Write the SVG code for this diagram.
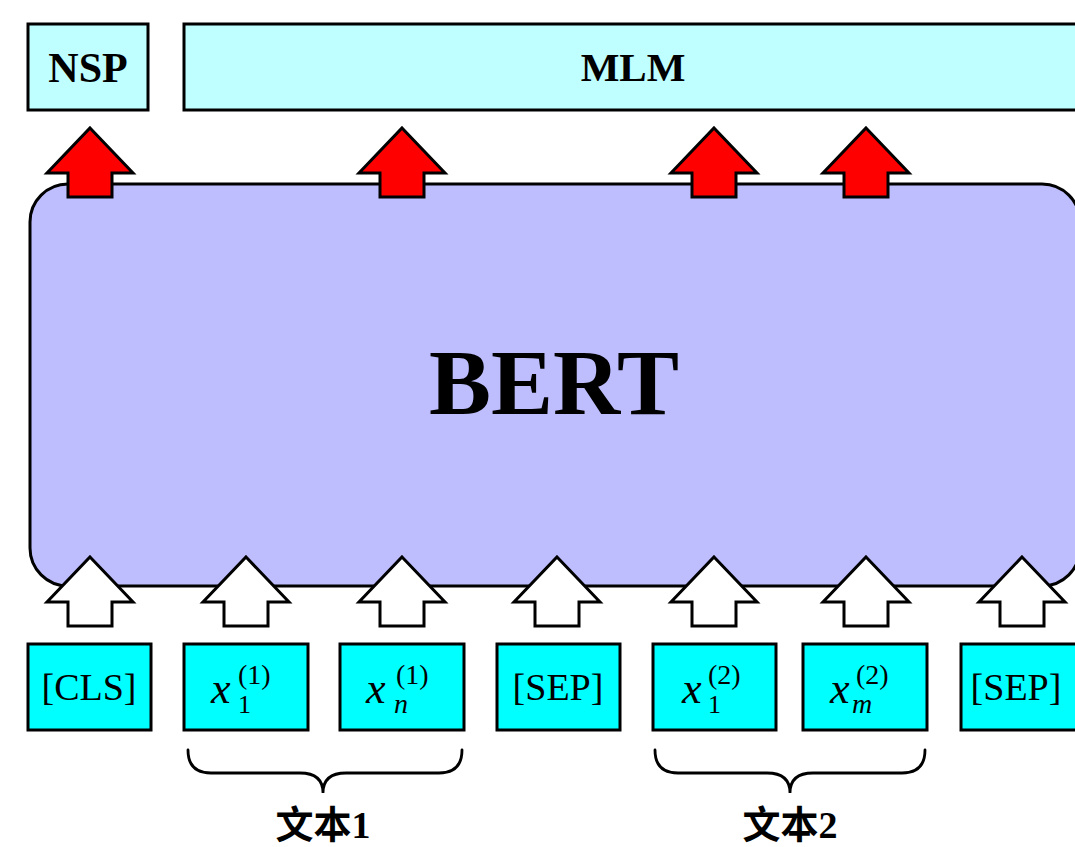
<svg xmlns="http://www.w3.org/2000/svg" xmlns:xlink="http://www.w3.org/1999/xlink" width="1075" height="847" viewBox="0 0 1075 847">
  <style>
    .head { fill: #bfffff; stroke: #000; stroke-width: 3; }
    .tok { fill: #00ffff; stroke: #000; stroke-width: 3; }
    .bert { fill: #bebeff; stroke: #000; stroke-width: 3; }
    .lbl { font-family: "Liberation Serif", "Times New Roman", serif; font-weight: bold; fill: #000; text-anchor: middle; }
    .tt { font-family: "Liberation Serif", "Times New Roman", serif; fill: #000; }
    .mi { font-style: italic; }
    .cjk { font-family: "Liberation Serif", "Noto Sans CJK SC", serif; font-weight: bold; font-size: 38px; text-anchor: middle; fill: #000; }
    .up-red { fill: #ff0000; stroke: #000; stroke-width: 3; stroke-linejoin: miter; }
    .up-white { fill: #ffffff; stroke: #000; stroke-width: 3; stroke-linejoin: miter; }
    .brace { fill: none; stroke: #000; stroke-width: 2.8; stroke-linecap: round; }
  </style>
  <defs>
    <!-- block arrow pointing up, tip at origin -->
    <path id="uparrow" d="M0,0 L43,45 L22,45 L22,69 L-22,69 L-22,45 L-43,45 Z"/>
  </defs>

  <rect width="1075" height="847" fill="#ffffff"/>

  <!-- pre-training heads -->
  <g id="nsp">
    <rect class="head" x="28" y="24" width="120" height="86"/>
    <text class="lbl" x="88" y="82" font-size="42">NSP</text>
  </g>
  <g id="mlm">
    <rect class="head" x="184" y="24" width="900" height="86"/>
    <text class="lbl" x="633" y="81" font-size="41">MLM</text>
  </g>

  <!-- encoder -->
  <g id="bert">
    <rect class="bert" x="30" y="184" width="1050" height="402" rx="38" ry="38"/>
    <text class="lbl" x="554" y="414" font-size="93">BERT</text>
  </g>

  <!-- arrows between tokens, encoder and heads -->
  <g id="connectors">
    <use xlink:href="#uparrow" href="#uparrow" class="up-red" x="90" y="128"/>
    <use xlink:href="#uparrow" href="#uparrow" class="up-red" x="402" y="128"/>
    <use xlink:href="#uparrow" href="#uparrow" class="up-red" x="714" y="128"/>
    <use xlink:href="#uparrow" href="#uparrow" class="up-red" x="866" y="128"/>

    <use xlink:href="#uparrow" href="#uparrow" class="up-white" x="90" y="557"/>
    <use xlink:href="#uparrow" href="#uparrow" class="up-white" x="246" y="557"/>
    <use xlink:href="#uparrow" href="#uparrow" class="up-white" x="402" y="557"/>
    <use xlink:href="#uparrow" href="#uparrow" class="up-white" x="557" y="557"/>
    <use xlink:href="#uparrow" href="#uparrow" class="up-white" x="714" y="557"/>
    <use xlink:href="#uparrow" href="#uparrow" class="up-white" x="866" y="557"/>
    <use xlink:href="#uparrow" href="#uparrow" class="up-white" x="1022" y="557"/>
  </g>

  <!-- input tokens -->
  <g id="tok-cls">
    <rect class="tok" x="28" y="644" width="123" height="86"/>
    <text class="tt" x="89" y="700" font-size="38" text-anchor="middle">[CLS]</text>
  </g>
  <g id="tok-x1-1">
    <rect class="tok" x="184" y="644" width="124" height="86"/>
    <text class="tt mi" x="211" y="703" font-size="44">x</text>
    <text class="tt" x="238" y="713" font-size="26">1</text>
    <text class="tt" x="238" y="684" font-size="28">(1)</text>
  </g>
  <g id="tok-xn-1">
    <rect class="tok" x="340" y="644" width="124" height="86"/>
    <text class="tt mi" x="366" y="703" font-size="44">x</text>
    <text class="tt mi" x="394" y="713" font-size="28">n</text>
    <text class="tt" x="396" y="684" font-size="28">(1)</text>
  </g>
  <g id="tok-sep-1">
    <rect class="tok" x="497" y="644" width="123" height="86"/>
    <text class="tt" x="558" y="700" font-size="38" text-anchor="middle">[SEP]</text>
  </g>
  <g id="tok-x1-2">
    <rect class="tok" x="653" y="644" width="123" height="86"/>
    <text class="tt mi" x="682" y="703" font-size="44">x</text>
    <text class="tt" x="708" y="713" font-size="26">1</text>
    <text class="tt" x="708" y="684" font-size="28">(2)</text>
  </g>
  <g id="tok-xm-2">
    <rect class="tok" x="803" y="644" width="124" height="86"/>
    <text class="tt mi" x="830" y="703" font-size="44">x</text>
    <text class="tt mi" x="852" y="713" font-size="28">m</text>
    <text class="tt" x="856" y="684" font-size="28">(2)</text>
  </g>
  <g id="tok-sep-2">
    <rect class="tok" x="961" y="644" width="130" height="86"/>
    <text class="tt" x="1016" y="700" font-size="38" text-anchor="middle">[SEP]</text>
  </g>

  <!-- segment braces -->
  <g id="segment-1">
    <path class="brace" d="M188,750 Q188,773 211,773 L300,773 Q323,773 323,793 Q323,773 346,773 L439,773 Q462,773 462,750"/>
    <text class="cjk" x="323" y="838">文本1</text>
  </g>
  <g id="segment-2">
    <path class="brace" d="M655,750 Q655,773 678,773 L767,773 Q790,773 790,793 Q790,773 813,773 L902,773 Q925,773 925,750"/>
    <text class="cjk" x="790" y="838">文本2</text>
  </g>
</svg>
